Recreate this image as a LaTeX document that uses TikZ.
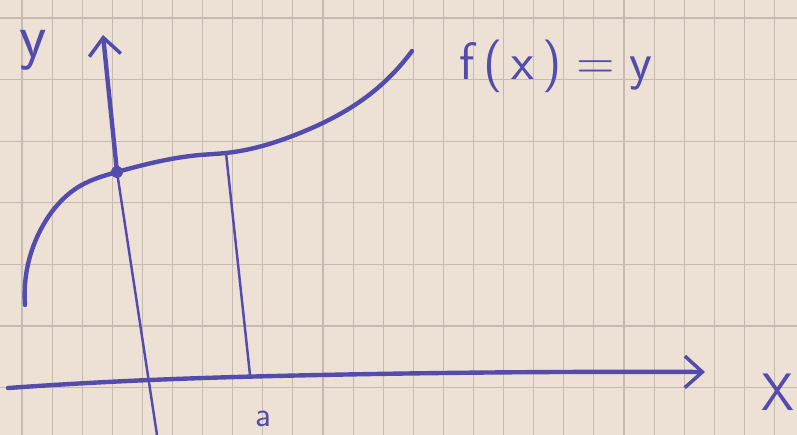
\documentclass[tikz,border=0pt]{standalone}
\usetikzlibrary{hobby,arrows.meta}
\definecolor{ink}{RGB}{84,76,172}
\definecolor{paper}{RGB}{236,225,212}
\definecolor{rule}{RGB}{196,186,178}
\tikzset{
    ink line/.style={ink, line width=2.5pt, line cap=round, line join=round},
    thin ink/.style={ink, line width=1.4pt, line cap=round},
    hand tip/.style={-{Straight Barb[length=10pt,width=18pt,line width=2pt]}},
    label text/.style={ink, font=\sffamily\fontsize{30}{32}\selectfont, inner sep=0pt}
}

\begin{document}
\begin{tikzpicture}[x=0.02cm, y=-0.02cm, use Hobby shortcut]
                \useasboundingbox (0,0) rectangle (797,435);
                \fill[paper] (0,0) rectangle (797,435);
                \foreach \gx in {0,...,25}
                    \draw[rule, line width=0.6pt] (22+30.1*\gx,0) -- (22+30.1*\gx,435);
                \foreach \gy in {0,...,6}
                    \draw[rule, line width=0.6pt] (0,18+61.6*\gy) -- (797,18+61.6*\gy);

                \coordinate (Ybot) at (157,435);
                \coordinate (Ytop) at (103,35);
                \coordinate (P0) at (117,172);
                \coordinate (X0) at (8,388);
                \coordinate (X1) at (150,380);
                \coordinate (X2) at (320,375);
                \coordinate (X3) at (560,372);
                \coordinate (X4) at (705,372);
                \coordinate (C1) at (25,305);
                \coordinate (C2) at (45,222);
                \coordinate (C3) at (80,186);
                \coordinate (C4) at (200,155);
                \coordinate (A) at (226,153);
                \coordinate (C5) at (300,133);
                \coordinate (C6) at (365,98);
                \coordinate (C7) at (412,51);
                \coordinate (Afoot) at (250,375);

                % axes
                \draw[thin ink] (Ybot) -- (P0);
                \draw[ink line, hand tip] (P0) -- (Ytop);
                \draw[ink line, hand tip] (X0)..(X1)..(X2)..(X3)..(X4);

                % the graph of f
                \draw[ink line] (C1)..(C2)..(C3)..(P0)..(C4)..(A)..(C5)..(C6)..(C7);
                \fill[ink] (P0) circle (6);
                \draw[thin ink] (A) -- (Afoot);

                \node[label text, font=\sffamily\fontsize{36}{38}\selectfont] (ylab) at (33,50) {y};
                \node[label text] (flab) at (556,66) {f\,(\,x\,)\;=\;y};
                \node[label text] (xlab) at (778,392) {X};
                \node[label text, font=\sffamily\fontsize{20}{22}\selectfont] (alab) at (263,419) {a};
\end{tikzpicture}
\end{document}
